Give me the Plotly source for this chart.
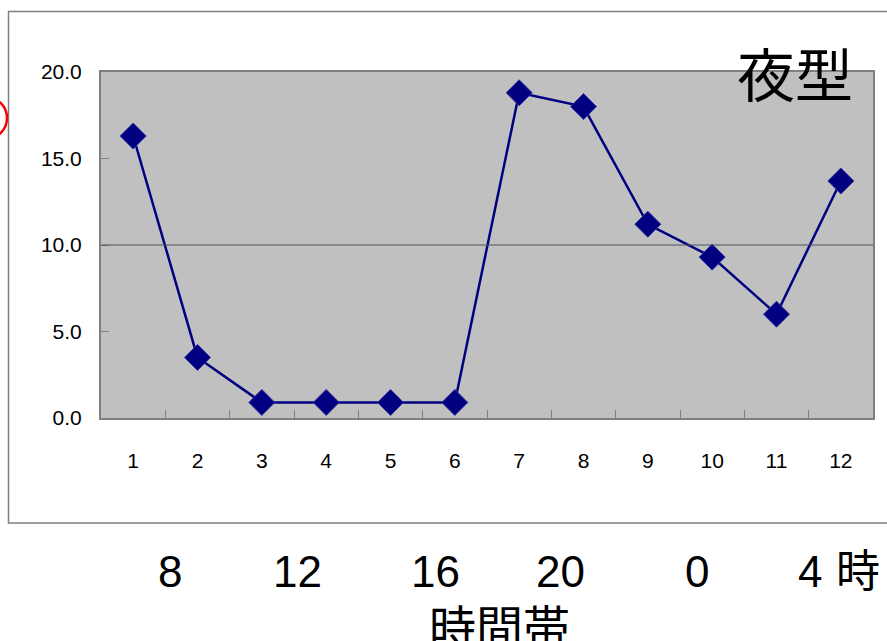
import plotly.graph_objects as go

# Hourly share (%) for the night-type group, 12 two-hour slots
slots = ["1", "2", "3", "4", "5", "6", "7", "8", "9", "10", "11", "12"]
values = [16.3, 3.5, 0.9, 0.9, 0.9, 0.9, 18.8, 18.0, 11.2, 9.3, 6.0, 13.7]

y_ticks = [0, 5, 10, 15, 20]
y_tick_text = ["0.0", "5.0", "10.0", "15.0", "20.0"]

hour_labels = ["8", "12", "16", "20", "0", "4", "時"]
title_text = "夜型"
axis_title = "時間帯"

W, H = 887, 641
L, R, T, B = 101, 873, 72, 418  # plot area in pixels


def px(x):
    return (x - L) / (R - L)


def py(y):
    return (B - y) / (B - T)


fig = go.Figure()
fig.add_trace(go.Scatter(
    x=slots, y=values, mode="lines+markers",
    line=dict(color="#000080", width=2.5),
    marker=dict(symbol="diamond", size=20, color="#000080",
                line=dict(color="#3030a0", width=1)),
    showlegend=False,
))

fig.update_layout(
    width=W, height=H,
    margin=dict(l=L, r=W - R, t=T, b=H - B),
    paper_bgcolor="white",
    plot_bgcolor="#c0c0c0",
    font=dict(family="Liberation Sans, sans-serif", color="black"),
    xaxis=dict(
        type="category", range=[-0.5, len(slots) - 0.5],
        tickson="boundaries", ticks="inside", ticklen=8,
        tickcolor="#808080", showgrid=False, showline=True, mirror=True,
        linecolor="#808080", linewidth=2, tickfont=dict(size=21),
        ticklabelstandoff=23,
    ),
    yaxis=dict(
        range=[0, 20], tickvals=y_ticks, ticktext=y_tick_text,
        ticks="inside", ticklen=8, tickcolor="#808080", showgrid=False,
        zeroline=False, showline=True, mirror=True, linecolor="#808080",
        linewidth=2, tickfont=dict(size=21), ticklabelstandoff=13,
    ),
)

# Horizontal gridline at 10
fig.add_shape(type="line", xref="paper", yref="y", x0=0, x1=1, y0=10, y1=10,
              line=dict(color="#505060", width=1))

# Chart-area frame
fig.add_shape(type="rect", xref="paper", yref="paper",
              x0=px(8.5), x1=px(895), y0=py(11.5), y1=py(523),
              line=dict(color="#808080", width=1.5), layer="below")

# Red circle marking at the left edge
fig.add_shape(type="circle", xref="paper", yref="paper",
              x0=px(-35), x1=px(7), y0=py(97), y1=py(139),
              line=dict(color="#ff0000", width=2.5))

# Title inside the upper-right corner
fig.add_annotation(text=title_text, xref="paper", yref="paper",
                   x=px(795), y=py(72), xanchor="center", yanchor="middle",
                   showarrow=False,
                   font=dict(family="Noto Sans CJK JP", size=58, color="black"))

# Clock-hour labels below the chart
hour_x = [170, 297, 435, 560, 697, 810, 858]
for lab, xx in zip(hour_labels, hour_x):
    fig.add_annotation(text=lab, xref="paper", yref="paper",
                       x=px(xx), y=py(571), xanchor="center", yanchor="middle",
                       showarrow=False,
                       font=dict(family="Liberation Sans, Noto Sans CJK JP", size=44, color="black"))

fig.add_annotation(text=axis_title, xref="paper", yref="paper",
                   x=px(500), y=py(624), xanchor="center", yanchor="middle",
                   showarrow=False,
                   font=dict(family="Noto Sans CJK JP", size=47, color="black"))

fig.write_html("out.html")
